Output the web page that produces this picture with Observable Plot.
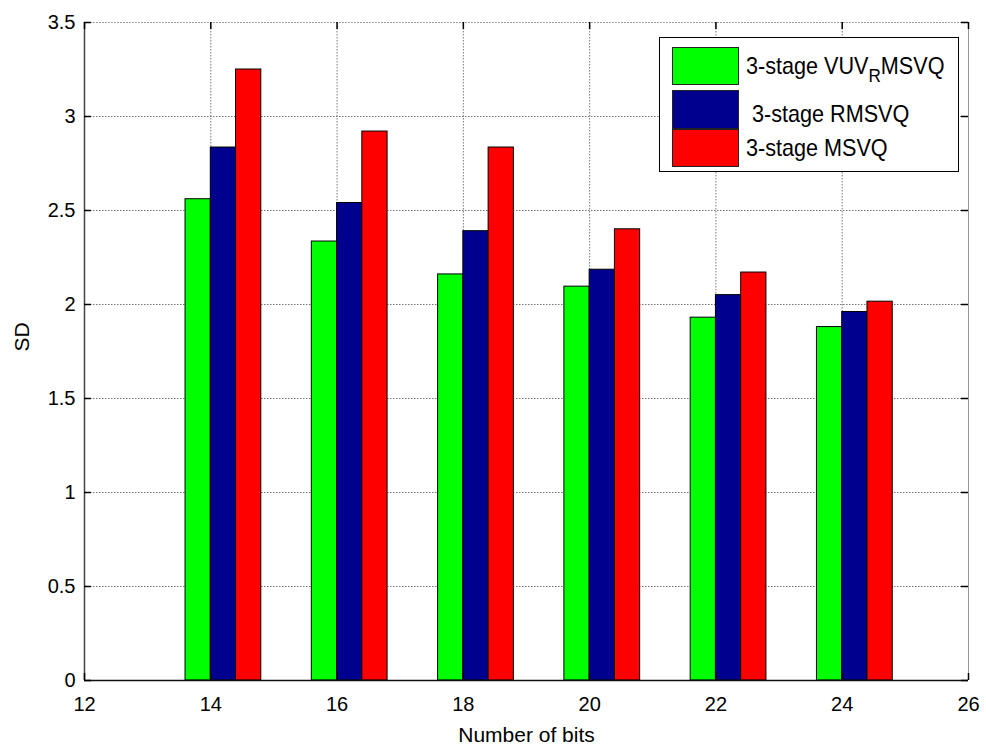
<!DOCTYPE html>
<html>
<head>
<meta charset="utf-8">
<script src="https://cdn.jsdelivr.net/npm/d3@7"></script>
<script src="https://cdn.jsdelivr.net/npm/@observablehq/plot@0.6"></script>
<style>
  html, body { margin: 0; padding: 0; background: #fff; }
  #wrap { position: relative; width: 986px; height: 752px; font-family: "Liberation Sans", Arial, sans-serif; }
  #chart svg g[aria-label="x-axis tick label"], #chart svg g[aria-label="y-axis tick label"],
  #chart svg g[aria-label="x-axis tick label"] text, #chart svg g[aria-label="y-axis tick label"] text { font-size: 20px !important; }
  #legend { position: absolute; left: 659px; top: 37px; width: 300px; height: 135px; border: 1.5px solid #000; background: #fff; box-sizing: border-box; }
  .item { position: absolute; left: 12px; display: flex; align-items: center; }
  .sw { width: 67px; height: 100%; box-sizing: border-box; border: 1px solid #222; flex: none; }
  .lbl { margin-left: 7px; font-size: 24px; color: #000; white-space: pre; display: inline-block; transform: scaleX(0.9); transform-origin: left center; }
  sub { font-size: 19px; vertical-align: -8px; line-height: 0; }
</style>
</head>
<body>
<div id="wrap"><div id="chart"></div><div id="legend"></div></div>
<script>
const bits = [14, 16, 18, 20, 22, 24];
const vuvrmsvq = [2.56, 2.335, 2.16, 2.095, 1.93, 1.88];
const rmsvq = [2.835, 2.54, 2.39, 2.185, 2.05, 1.96];
const msvq = [3.25, 2.92, 2.835, 2.40, 2.17, 2.015];
const seriesNames = ["3-stage VUV_RMSVQ", " 3-stage RMSVQ", "3-stage MSVQ"];
const seriesColors = ["#00ff00", "#00008f", "#ff0000"];
const xTicks = [12, 14, 16, 18, 20, 22, 24, 26];
const yTicks = [0, 0.5, 1, 1.5, 2, 2.5, 3, 3.5];

const seriesValues = [vuvrmsvq, rmsvq, msvq];
const barW = 0.4;
const data = [];
seriesValues.forEach((vals, s) => {
  vals.forEach((v, i) => {
    data.push({bits: bits[i], s, value: v, x1: bits[i] + (s - 1) * barW, x2: bits[i] + s * barW});
  });
});

const W = 986, H = 752;
const mL = 84, mR = 18, mT = 22, mB = 72;
const pw = W - mL - mR, ph = H - mT - mB;
const tk = 7;

const chart = Plot.plot({
  width: W, height: H,
  marginLeft: mL, marginRight: mR, marginTop: mT, marginBottom: mB,
  style: {fontFamily: "'Liberation Sans', Arial, sans-serif", fontSize: "20px", color: "#000", background: "transparent"},
  x: {domain: [12, 26], ticks: xTicks},
  y: {domain: [0, 3.5], ticks: yTicks},
  marks: [
    Plot.gridX(xTicks, {stroke: "#777", strokeOpacity: 1, strokeDasharray: "1.5,1.5", strokeWidth: 1}),
    Plot.gridY(yTicks, {stroke: "#777", strokeOpacity: 1, strokeDasharray: "1.5,1.5", strokeWidth: 1}),
    Plot.rectY(data, {x1: "x1", x2: "x2", y: "value", fill: d => seriesColors[d.s], stroke: "#000", strokeWidth: 1}),
    Plot.ruleX([26], {stroke: "#999", strokeWidth: 1}),
    Plot.ruleY([3.5], {stroke: "#999", strokeWidth: 1, strokeDasharray: "1.5,1.5"}),
    Plot.ruleX([12], {stroke: "#444", strokeWidth: 1.5}),
    Plot.ruleY([0], {stroke: "#111", strokeWidth: 1.5}),
    Plot.tickY(yTicks, {y: d => d, insetRight: pw - tk, stroke: "#000", strokeWidth: 1.5}),
    Plot.tickY(yTicks, {y: d => d, insetLeft: pw - tk, stroke: "#000", strokeWidth: 1.5}),
    Plot.tickX(xTicks, {x: d => d, insetTop: ph - tk, stroke: "#000", strokeWidth: 1.5}),
    Plot.tickX(xTicks, {x: d => d, insetBottom: ph - tk, stroke: "#000", strokeWidth: 1.5}),
    Plot.axisX(xTicks, {tickSize: 0, tickPadding: 16, fontSize: 20, label: null, tickFormat: d => String(d)}),
    Plot.axisY(yTicks, {tickSize: 0, tickPadding: 9, fontSize: 20, label: null, tickFormat: d => String(d)}),
    Plot.text(["SD"], {frameAnchor: "left", dx: -62, rotate: -90, fontSize: 21, text: d => d}),
    Plot.text(["Number of bits"], {frameAnchor: "bottom", dy: 61, fontSize: 21, text: d => d})
  ]
});
document.getElementById("chart").appendChild(chart);

const legend = document.getElementById("legend");
const tops = [9, 52, 91];
const heights = [38, 39, 38];
seriesNames.forEach((name, i) => {
  const item = document.createElement("div");
  item.className = "item";
  item.style.top = tops[i] + "px";
  item.style.height = heights[i] + "px";
  const sw = document.createElement("div");
  sw.className = "sw";
  sw.style.background = seriesColors[i];
  const lbl = document.createElement("span");
  lbl.className = "lbl";
  if (name.includes("_")) {
    const [a, b] = name.split("_");
    lbl.append(a);
    const sub = document.createElement("sub");
    sub.textContent = b[0];
    lbl.append(sub);
    lbl.append(b.slice(1));
  } else {
    lbl.textContent = name;
  }
  if (i === 1) lbl.style.marginTop = "8px";
  item.append(sw, lbl);
  legend.append(item);
});
</script>
</body>
</html>
